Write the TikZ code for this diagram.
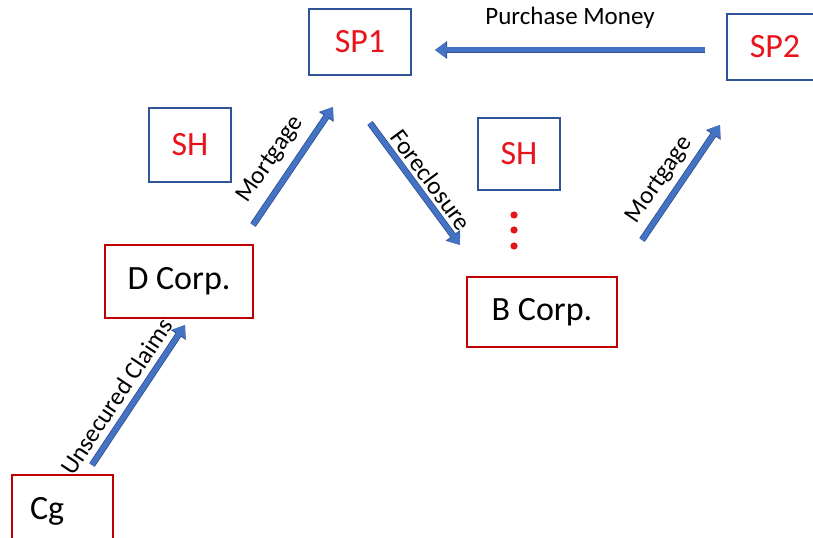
\documentclass[tikz,border=0pt]{standalone}
\usepackage{fontspec}
\setmainfont{Carlito}
\usepackage{tikz}
\usetikzlibrary{arrows.meta,positioning,calc}
\definecolor{boxblue}{HTML}{2F5597}
\definecolor{boxred}{HTML}{C00000}
\definecolor{namered}{HTML}{E8141C}
\definecolor{flowblue}{HTML}{4472C4}
\definecolor{flowdark}{HTML}{2F528F}

\begin{document}
\begin{tikzpicture}[x=1bp,y=-1bp,
    bluebox/.style={draw=boxblue,line width=1.8bp,inner sep=0pt,text=namered,
      font=\fontsize{34bp}{41bp}\selectfont},
    redbox/.style={draw=boxred,line width=1.8bp,inner sep=0pt,text=black,
      font=\fontsize{34bp}{41bp}\selectfont},
    flow/.style={draw=flowblue,line width=5bp,-{Triangle[length=11bp,width=15bp]},
      preaction={draw=flowdark,line width=6.6bp,-{Triangle[length=12bp,width=17bp]}}},
    flowlabel/.style={font=\fontsize{25bp}{30bp}\selectfont,text=black}
  ]
    \useasboundingbox (0,0) rectangle (813,538);
    \clip (0,0) rectangle (813,538);

    % parties
    \node[bluebox,minimum width=102bp,minimum height=66bp] (sp1) at (360,42) {SP1};
    \node[bluebox,minimum width=96bp,minimum height=66bp] (sp2) at (775,47) {SP2};
    \node[bluebox,minimum width=82bp,minimum height=74bp] (shd) at (190,145) {SH};
    \node[bluebox,minimum width=82bp,minimum height=72bp] (shb) at (519,154) {SH};
    \node[redbox,minimum width=148bp,minimum height=73bp] (dcorp) at (179,281.5) {D Corp.};
    \node[redbox,minimum width=150bp,minimum height=70bp] (bcorp) at (542,312) {B Corp.};
    \node[redbox,text width=65bp,align=left,inner xsep=18bp,minimum height=72bp]
      (cg) at (62.5,511) {Cg};

    % arrow ends
    \coordinate (uc-s) at (92,465);  \coordinate (uc-e) at (185,325);
    \coordinate (md-s) at (253,225); \coordinate (md-e) at (333,107);
    \coordinate (fc-s) at (370,123); \coordinate (fc-e) at (460,245);
    \coordinate (mb-s) at (642,240); \coordinate (mb-e) at (720,125);
    \coordinate (pm-s) at (705,50);  \coordinate (pm-e) at (435,50);

    \draw[flow] (uc-s) -- node[flowlabel,sloped,above=3bp,pos=0.42] {Unsecured Claims} (uc-e);
    \draw[flow] (md-s) -- node[flowlabel,sloped,above=6bp,pos=0.45] {Mortgage} (md-e);
    \draw[flow] (fc-s) -- node[flowlabel,sloped,above=1bp,pos=0.54] {Foreclosure} (fc-e);
    \draw[flow] (mb-s) -- node[flowlabel,sloped,above=3bp,pos=0.43] {Mortgage} (mb-e);
    \draw[flow] (pm-s) -- node[flowlabel,above=16bp] {Purchase Money} (pm-e);

    % more shareholders
    \foreach \dy in {215,230,246}
      \fill[namered] (514,\dy) circle[radius=3.6bp];
  \end{tikzpicture}
\end{document}
